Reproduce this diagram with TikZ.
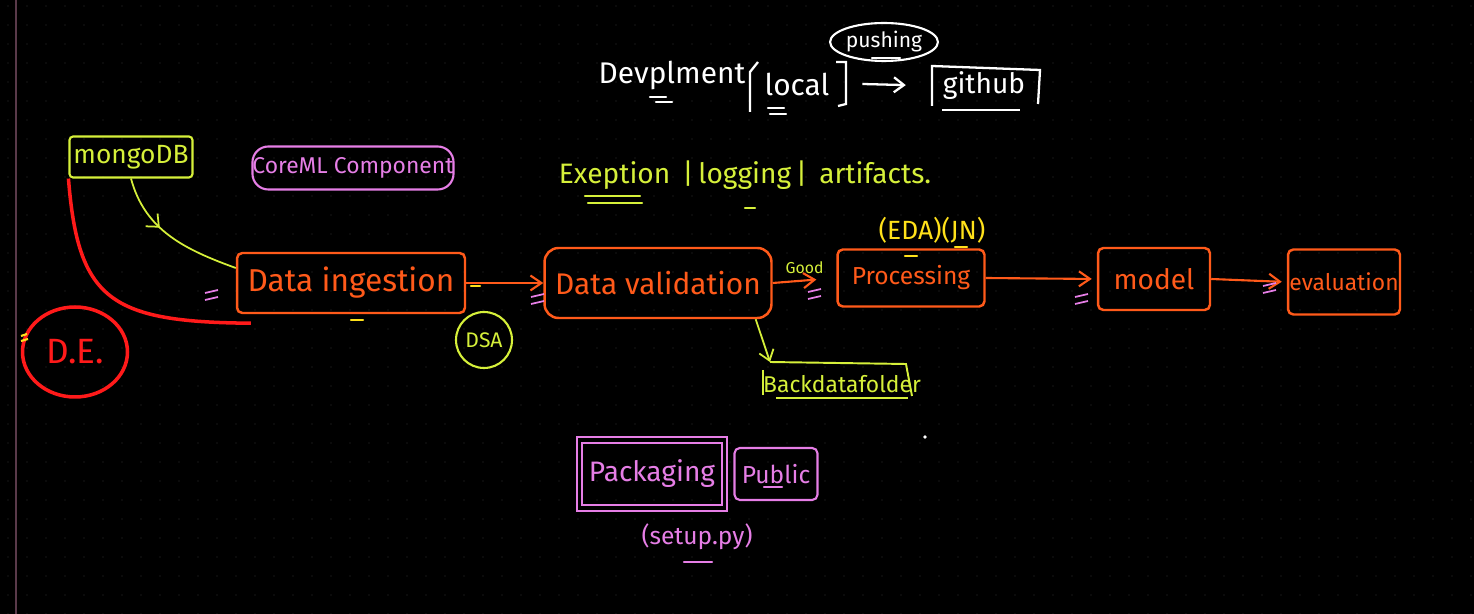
\documentclass[tikz,border=0pt]{standalone}
\usepackage{fontspec}
\setmainfont{Fira Sans}
\usetikzlibrary{arrows.meta,positioning,decorations.markings,shapes.geometric}
\definecolor{inkOrange}{HTML}{FF5A1A}
\definecolor{inkLime}{HTML}{D6F03A}
\definecolor{inkYellow}{HTML}{FFE11A}
\definecolor{inkPink}{HTML}{E67EE6}
\definecolor{inkRed}{HTML}{FF1A1A}
\definecolor{gridDot}{HTML}{333333}
\definecolor{edgeLine}{HTML}{5A3A4A}

\begin{document}
\begin{tikzpicture}[
  x=0.02cm, y=-0.02cm,
  every node/.style={font=\fontsize{15}{18}\selectfont},
  stagebox/.style={draw=inkOrange, line width=1.4pt, text=inkOrange, rounded corners=3pt, inner sep=0pt},
  limebox/.style={draw=inkLime, line width=1.2pt, text=inkLime, rounded corners=2pt, inner sep=0pt},
  pinkbox/.style={draw=inkPink, line width=1.2pt, text=inkPink, inner sep=0pt},
  whiteink/.style={text=white, inner sep=1pt},
  limeink/.style={text=inkLime, inner sep=1pt},
  arr/.style={-{Straight Barb[length=2.2mm,width=3mm]}, line width=1.2pt, draw=inkOrange},
  limearr/.style={-{Straight Barb[length=2mm,width=3mm]}, line width=1pt, draw=inkLime},
  midarr/.style={line width=1pt, draw=inkLime, postaction={decorate},
    decoration={markings, mark=at position 0.4 with {\arrow{Straight Barb[length=2mm,width=3.5mm]}}}},
  eqmark/.pic={\draw[inkPink, line width=1pt] (-7,-3) -- (6,-6); \draw[inkPink, line width=1pt] (-7,4) -- (6,1);},
  dashmark/.style={line width=1.4pt, line cap=round}
]
\useasboundingbox[fill=black] (0,0) rectangle (1474,614);
% dotted board
\foreach \gx in {8,27,...,1474}
  \foreach \gy in {6,25,...,614}
    \fill[gridDot] (\gx,\gy) circle (0.7);
\draw[edgeLine, line width=0.8pt] (16,0) -- (16,614);

% Top row: development to github
\node[whiteink, font=\fontsize{17}{20}\selectfont] (dev) at (672,75) {Devplment};
\node[whiteink, font=\fontsize{17}{20}\selectfont] (local) at (797,84) {local};
\draw[white, line width=1.3pt] (758,62) -- (750,72) -- (750,112);
\draw[white, line width=1.3pt] (836,62) -- (846,62) -- (846,104) -- (838,106);
\node[whiteink, font=\fontsize{16}{19}\selectfont] (github) at (984,86) {github};
\draw[white, line width=1.3pt] (932,106) -- (932,66) -- (1040,70) -- (1038,104);
\draw[white, line width=1.2pt] (942,110) -- (1020,110);
\draw[-{Straight Barb[length=2mm,width=3mm]}, white, line width=1.3pt, shorten >=0.7cm] ([xshift=0.62cm]local.east) -- (github.west);
\node[draw=white, line width=1.2pt, ellipse, inner sep=0pt, minimum width=1.64cm, minimum height=0.76cm,
  text=white, font=\fontsize{12}{14}\selectfont] (push) at (884,42) {pushing};
\draw[white, dashmark] (872,58) -- (900,58);
\draw[white, dashmark] (650,97) -- (666,97) (656,102) -- (672,102);
\draw[white, dashmark] (768,108) -- (784,108) (770,114) -- (786,114);

% Sources
\node[limebox, minimum width=2.46cm, minimum height=0.82cm, font=\fontsize{15}{18}\selectfont] (mongo) at (131,157) {mongoDB};
\node[pinkbox, rounded corners=9pt, minimum width=4.02cm, minimum height=0.86cm, font=\fontsize{13}{16}\selectfont] (coreml) at (353,168) {CoreML Component};

% Pipeline
\node[stagebox, minimum width=4.56cm, minimum height=1.2cm, font=\fontsize{18}{21}\selectfont] (ingest) at (351,283) {Data ingestion};
\node[stagebox, rounded corners=8pt, minimum width=4.54cm, minimum height=1.4cm, font=\fontsize{17}{20}\selectfont] (valid) at (658,283) {Data validation};
\node[stagebox, minimum width=2.94cm, minimum height=1.14cm, font=\fontsize{14}{17}\selectfont] (proc) at (911,278) {Processing};
\node[stagebox, minimum width=2.24cm, minimum height=1.24cm, font=\fontsize{16}{19}\selectfont] (model) at (1154,279) {model};
\node[stagebox, minimum width=2.24cm, minimum height=1.3cm, font=\fontsize{13}{16}\selectfont] (eval) at (1344,282) {evaluation};

\draw[arr] (ingest.east) -- (valid.west);
\draw[arr, shorten >=4mm] (valid.east) -- node[above, text=inkLime, font=\fontsize{9}{11}\selectfont] {Good} (proc.west);
\draw[arr, shorten >=1mm] (proc.east) -- (model.west);
\draw[arr, shorten >=1mm] (model.east) -- (eval.west);

\pic at (212,296) {eqmark};
\pic at (538,300) {eqmark};
\pic at (815,295) {eqmark};
\pic at (1082,300) {eqmark};
\pic at (1270,289) {eqmark};
\draw[inkYellow, dashmark] (471,286) -- (480,286);
\draw[inkYellow, dashmark] (351,320) -- (363,320);

% Links from the sources
\draw[midarr] (mongo.south) to[out=-75, in=160] ([yshift=0.3cm]ingest.west);
\draw[inkRed, line width=2pt] (mongo.south west) .. controls (78,300) and (110,322) .. ([xshift=0.3cm,yshift=-0.18cm]ingest.south west);
\node[draw=inkRed, line width=2pt, ellipse, minimum width=2.1cm, minimum height=1.8cm, inner sep=0pt,
  text=inkRed, font=\fontsize{20}{24}\selectfont] (de) at (75,352) {D.E.};
\draw[inkYellow, line width=1.2pt] (21,336) -- (27,334) (21,341) -- (28,339);
\node[draw=inkLime, line width=1.2pt, circle, minimum size=1.12cm, inner sep=0pt,
  text=inkLime, font=\fontsize{12}{14}\selectfont] (dsa) at (484,340) {DSA};

% Extras around the pipeline
\node[text=inkYellow, font=\fontsize{15}{18}\selectfont] (eda) at (932,230) {(EDA)(JN)};
\draw[inkYellow, dashmark] (905,256) -- (917,256);
\draw[inkYellow, dashmark] (955,247) -- (967,247);
\node[limeink, font=\fontsize{16}{19}\selectfont] (logs) at (745,175) {Exeption \,|\,logging\,|\, artifacts.};
\draw[inkLime, dashmark] (585,196) -- (640,196) (588,203) -- (642,203);
\draw[inkLime, dashmark] (745,208) -- (755,208);
\node[limeink, font=\fontsize{13}{16}\selectfont] (backdata) at (842,384) {Backdatafolder};
\draw[inkLime, line width=1.1pt] (763,370) -- (763,395);
\draw[inkLime, line width=1.1pt] (770,362) -- (906,364) -- (912,396);
\draw[inkLime, line width=1.1pt] (776,398) -- (908,398);
\draw[limearr] ([xshift=-0.34cm]valid.south east) -- (770,362);

% Packaging
\node[pinkbox, double=black, double distance=2pt, minimum width=2.9cm, minimum height=1.36cm,
  font=\fontsize{16}{19}\selectfont] (pack) at (652,474) {Packaging};
\node[pinkbox, rounded corners=3pt, minimum width=1.66cm, minimum height=1.04cm,
  font=\fontsize{14}{17}\selectfont] (public) at (776,474) {Public};
\node[text=inkPink, font=\fontsize{14}{17}\selectfont] (setup) at (697,537) {(setup.py)};
\draw[inkPink, dashmark] (684,562) -- (712,562);
\draw[inkPink, dashmark] (764,487) -- (782,487);

\fill[white] (925,437) circle (1.8);
\end{tikzpicture}
\end{document}
